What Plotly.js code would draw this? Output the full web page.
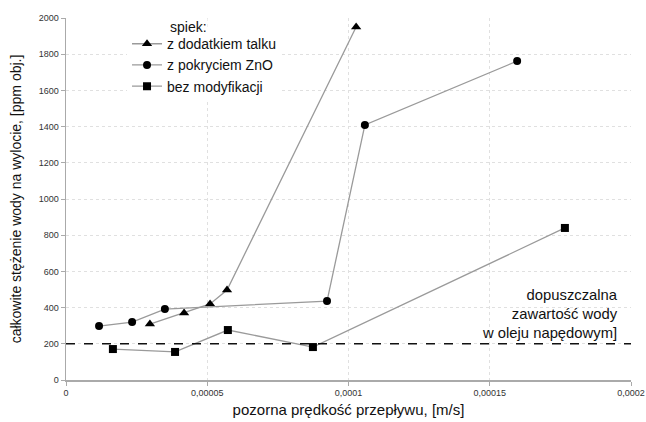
<!DOCTYPE html>
<html><head><meta charset="utf-8">
<script src="https://cdn.plot.ly/plotly-3.0.1.min.js"></script>
<style>html,body{margin:0;padding:0;background:#fff}</style>
</head><body>
<div id="chart" style="width:646px;height:422px"></div>
<script>
const seriesNames = ["z dodatkiem talku", "z pokryciem ZnO", "bez modyfikacji"];
const legendTitle = "spiek:";
const talcX = [0.0000297, 0.0000418, 0.0000510, 0.0000570, 0.0001027];
const talcY = [309, 370, 420, 497, 1950];
const znoX = [0.0000117, 0.0000234, 0.0000350, 0.0000924, 0.0001058, 0.0001597];
const znoY = [298, 320, 392, 436, 1409, 1762];
const bezX = [0.0000166, 0.0000386, 0.0000573, 0.0000874, 0.0001766];
const bezY = [171, 155, 276, 182, 840];
const limitX = [0, 0.0002];
const limitY = [200, 200];
const xTickVals = [0, 0.00005, 0.0001, 0.00015, 0.0002];
const xTickText = ["0", "0,00005", "0,0001", "0,00015", "0,0002"];
const yTickVals = [0, 200, 400, 600, 800, 1000, 1200, 1400, 1600, 1800, 2000];
const yTickText = ["0", "200", "400", "600", "800", "1000", "1200", "1400", "1600", "1800", "2000"];

const lineStyle = {color: "#9a9a9a", width: 1.3};
const traces = [
  {x: talcX, y: talcY, name: seriesNames[0], mode: "lines+markers", line: lineStyle,
   marker: {symbol: "triangle-up", size: 9, color: "#000"}},
  {x: znoX, y: znoY, name: seriesNames[1], mode: "lines+markers", line: lineStyle,
   marker: {symbol: "circle", size: 8, color: "#000"}},
  {x: bezX, y: bezY, name: seriesNames[2], mode: "lines+markers", line: lineStyle,
   marker: {symbol: "square", size: 8, color: "#000"}},
  {x: limitX, y: limitY, mode: "lines", showlegend: false, hoverinfo: "skip",
   line: {color: "#111", width: 1.6, dash: "dash"}}
];
const layout = {
  width: 646, height: 422,
  margin: {l: 66, r: 15, t: 18, b: 42},
  paper_bgcolor: "#fff", plot_bgcolor: "#fff",
  font: {family: "Liberation Sans, Arial, sans-serif", color: "#222"},
  showlegend: true,
  legend: {x: 0.108, y: 0.972, xanchor: "left", yanchor: "top", bgcolor: "rgba(255,255,255,1)",
           font: {size: 14, color: "#111"}, tracegroupgap: 0, itemwidth: 30},
  xaxis: {range: [0, 0.0002], tickvals: xTickVals, ticktext: xTickText,
          showgrid: true, gridcolor: "#e0e0e0", griddash: "dot", gridwidth: 1,
          zeroline: false, showline: true, linecolor: "#aaa", linewidth: 1.5,
          ticks: "outside", ticklen: 4, tickcolor: "#aaa",
          tickfont: {size: 9, color: "#333", family: "Liberation Sans, Arial"},
          title: {text: "pozorna prędkość przepływu, [m/s]", font: {size: 15, color: "#111"}, standoff: 7}},
  yaxis: {range: [0, 2000], tickvals: yTickVals, ticktext: yTickText,
          showgrid: true, gridcolor: "#e0e0e0", griddash: "dot", gridwidth: 1,
          zeroline: false, showline: true, linecolor: "#aaa", linewidth: 1.5,
          ticks: "outside", ticklen: 4, tickcolor: "#aaa",
          tickfont: {size: 9, color: "#333", family: "Liberation Sans, Arial"},
          title: {text: "całkowite stężenie wody na wylocie, [ppm obj.]", font: {size: 14, color: "#111"}, standoff: 14}},
  annotations: [{
    xref: "x", yref: "y", x: 0.000196, y: 205, xanchor: "right", yanchor: "bottom",
    align: "right", showarrow: false,
    text: "dopuszczalna<br>zawartość wody<br>w oleju napędowym]",
    font: {size: 14.8, color: "#111"}
  }, {
    xref: "paper", yref: "paper", x: 0.183, y: 1.0, xanchor: "left", yanchor: "top",
    showarrow: false, text: legendTitle, bgcolor: "#fff", borderpad: 0,
    font: {size: 14, color: "#111"}
  }]
};
Plotly.newPlot("chart", traces, layout, {displayModeBar: false, staticPlot: true});
</script>
</body></html>
